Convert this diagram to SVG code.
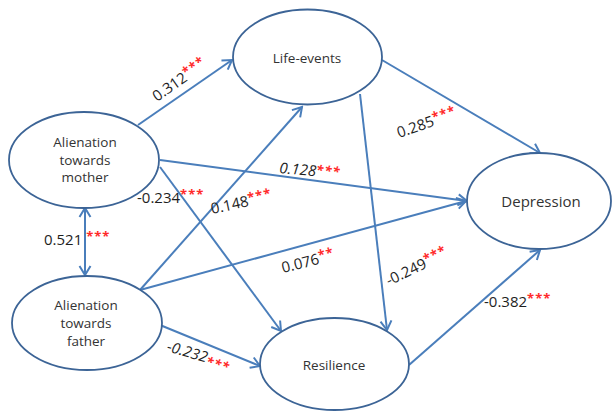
<svg xmlns="http://www.w3.org/2000/svg" width="613" height="412" viewBox="0 0 613 412">
<style>
.node ellipse{fill:#fff;stroke:#3c6496;stroke-width:1.8}
.nl{font-family:"Open Sans","Liberation Sans",sans-serif;font-size:13.5px;fill:#333;text-anchor:middle}
.edge{fill:none;stroke:#4a7ebb;stroke-width:2;marker-end:url(#ah)}
.lb{font-family:"Open Sans","Liberation Sans",sans-serif;font-size:15px;fill:#1e1e1e}
.it{font-style:italic}
.st{fill:#ff2a2a;font-size:13px;font-weight:bold;letter-spacing:1px}
</style>
<defs>
<marker id="ah" viewBox="-11 -7 13 14" refX="0" refY="0" markerWidth="13" markerHeight="14" markerUnits="userSpaceOnUse" orient="auto-start-reverse">
<path d="M-9,-5.5 L0,0 L-9,5.5" fill="none" stroke="#4a7ebb" stroke-width="2"/>
</marker>
</defs>
<rect width="613" height="412" fill="#fff"/>
<g id="connectors">
<path class="edge" d="M138,125 L232,60"/>
<path class="edge" d="M160,160 L467,201"/>
<path class="edge" d="M160,167 L281,331"/>
<path class="edge" d="M140,290 L302,107"/>
<path class="edge" d="M140,290 L466,201"/>
<path class="edge" d="M160,325 L260,366"/>
<path class="edge" d="M382,60 L540,153"/>
<path class="edge" d="M360,94 L387,330"/>
<path class="edge" d="M409,365 L540,250"/>
<path class="edge" d="M85,208 L85,275" style="marker-start:url(#ah)"/>
</g>
<g id="life-events" class="node"><ellipse cx="307.5" cy="57" rx="74.5" ry="47.5"/><text class="nl" x="307" y="63">Life-events</text></g>
<g id="mother" class="node"><ellipse cx="84" cy="160" rx="75" ry="48"/><text class="nl" x="85" y="147">Alienation</text><text class="nl" x="85" y="164.5">towards</text><text class="nl" x="85" y="182">mother</text></g>
<g id="father" class="node"><ellipse cx="87" cy="323" rx="75" ry="47"/><text class="nl" x="86" y="310">Alienation</text><text class="nl" x="86" y="328">towards</text><text class="nl" x="86" y="346">father</text></g>
<g id="depression" class="node"><ellipse cx="539" cy="201" rx="72" ry="48"/><text class="nl" x="541" y="207" style="font-size:15px">Depression</text></g>
<g id="resilience" class="node"><ellipse cx="334.5" cy="364" rx="74.5" ry="46"/><text class="nl" x="334" y="370">Resilience</text></g>
<g id="labels">
<text class="lb" transform="translate(157,102) rotate(-35)">0.312<tspan class="st" dy="-4">***</tspan></text>
<text class="lb" x="137" y="203">-0.234<tspan class="st" dy="-4">***</tspan></text>
<text class="lb" transform="translate(212,214) rotate(-12)">0.148<tspan class="st" dy="-4">***</tspan></text>
<text class="lb it" transform="translate(279,173) rotate(5)">0.128<tspan class="st" dy="-2">***</tspan></text>
<text class="lb" transform="translate(399,138) rotate(-19)">0.285<tspan class="st" dy="-4">***</tspan></text>
<text class="lb" transform="translate(283,273) rotate(-14)">0.076<tspan class="st" dy="-4">**</tspan></text>
<text class="lb" transform="translate(389,286) rotate(-26)">-0.249<tspan class="st" dy="-4">***</tspan></text>
<text class="lb it" transform="translate(166,351) rotate(16)">-0.232<tspan class="st" dy="3">***</tspan></text>
<text class="lb" x="484" y="307">-0.382<tspan class="st" dy="-4">***</tspan></text>
<text class="lb" x="44" y="245">0.521 <tspan class="st" dy="-4">***</tspan></text>
</g>
</svg>
